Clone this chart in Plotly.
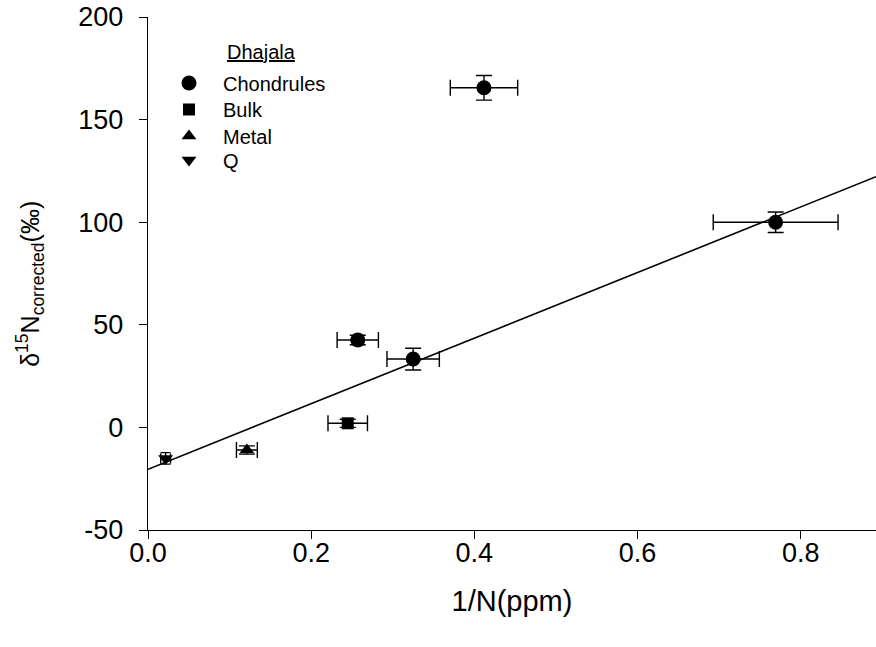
import plotly.graph_objects as go

# Dhajala: delta15N (corrected) versus 1/N concentration
chondrules_x = [0.4118, 0.7693, 0.2571, 0.3250]
chondrules_y = [165.5, 100.0, 42.6, 33.3]
chondrules_xerr = [0.0413, 0.0765, 0.0253, 0.0321]
chondrules_yerr = [6.0, 5.0, 2.3, 5.3]

bulk_x = [0.2448]
bulk_y = [2.0]
bulk_xerr = [0.0242]
bulk_yerr = [2.0]

metal_x = [0.1212]
metal_y = [-11.0]
metal_xerr = [0.0128]
metal_yerr = [2.0]

q_x = [0.0216]
q_y = [-15.1]
q_xerr = [0.006]
q_yerr = [2.8]

# least-squares mixing line
fit_intercept = -20.4
fit_slope = 159.8
x_range = [0.0, 0.8923]
y_range = [-50, 200]

x_ticks = [0.0, 0.2, 0.4, 0.6, 0.8]
x_ticktext = ["0.0", "0.2", "0.4", "0.6", "0.8"]
y_ticks = [-50, 0, 50, 100, 150, 200]
y_ticktext = ["-50", "0", "50", "100", "150", "200"]

FONT = "Liberation Sans, Arial, sans-serif"
INK = "black"


def err(vals, cap):
    return dict(type="data", array=vals, visible=True, color=INK,
                thickness=1.4, width=cap)


fig = go.Figure()

fig.add_trace(go.Scatter(
    x=x_range,
    y=[fit_intercept + fit_slope * v for v in x_range],
    mode="lines", line=dict(color=INK, width=1.6),
    showlegend=False, hoverinfo="skip"))

series = [
    ("Chondrules", chondrules_x, chondrules_y, chondrules_xerr, chondrules_yerr, "circle", 15, 8, "legend"),
    ("Bulk", bulk_x, bulk_y, bulk_xerr, bulk_yerr, "square", 12, 8, "legend2"),
    ("Metal", metal_x, metal_y, metal_xerr, metal_yerr, "triangle-up", 13, 8, "legend3"),
    ("Q", q_x, q_y, q_xerr, q_yerr, "triangle-down", 13, 5, "legend4"),
]
for name, xs, ys, xe, ye, sym, size, cap, lg in series:
    fig.add_trace(go.Scatter(
        x=xs, y=ys, name=name, mode="markers",
        marker=dict(symbol=sym, size=size, color=INK, line=dict(width=0)),
        error_x=err(xe, cap), error_y=err(ye, cap),
        legend=lg))

legend_rows = {"legend": 0.8713, "legend2": 0.8197, "legend3": 0.768, "legend4": 0.7212}
legend_style = dict(x=0.0096, xanchor="left", yanchor="middle",
                    bgcolor="rgba(0,0,0,0)", borderwidth=0, itemwidth=58,
                    font=dict(family=FONT, size=20, color=INK))

fig.update_layout(
    width=876, height=647,
    margin=dict(l=148, r=0, t=17, b=117),
    paper_bgcolor="white", plot_bgcolor="white",
    font=dict(family=FONT, color=INK),
    **{k: dict(y=v, **legend_style) for k, v in legend_rows.items()},
    xaxis=dict(
        range=x_range, tickvals=x_ticks, ticktext=x_ticktext,
        showline=True, linecolor=INK, linewidth=1.4, mirror=False,
        ticks="outside", ticklen=8, tickwidth=1.4, tickcolor=INK,
        showgrid=False, zeroline=False,
        tickfont=dict(family=FONT, size=27, color=INK),
        ticklabelstandoff=-10,
        title=dict(text="1/N(ppm)", font=dict(family=FONT, size=29, color=INK),
                   standoff=24),
    ),
    yaxis=dict(
        range=y_range, tickvals=y_ticks, ticktext=y_ticktext,
        showline=True, linecolor=INK, linewidth=1.4, mirror=False,
        ticks="outside", ticklen=8, tickwidth=1.4, tickcolor=INK,
        showgrid=False, zeroline=False,
        tickfont=dict(family=FONT, size=27, color=INK),
        ticklabelstandoff=10,
    ),
    annotations=[
        dict(text="δ<sup>15</sup>N<sub>corrected</sub>(‰)",
             xref="paper", yref="paper", x=-0.162, y=0.48, textangle=-90,
             xanchor="center", yanchor="middle", showarrow=False,
             font=dict(family=FONT, size=25, color=INK)),
        dict(text="<span style='text-decoration:underline'>Dhajala</span>",
             xref="paper", yref="paper", x=(225 - 148) / 728, y=(530 - 52) / 513,
             xanchor="left", yanchor="middle", showarrow=False,
             font=dict(family=FONT, size=20, color=INK)),
    ],
)

fig.write_html("out.html")
